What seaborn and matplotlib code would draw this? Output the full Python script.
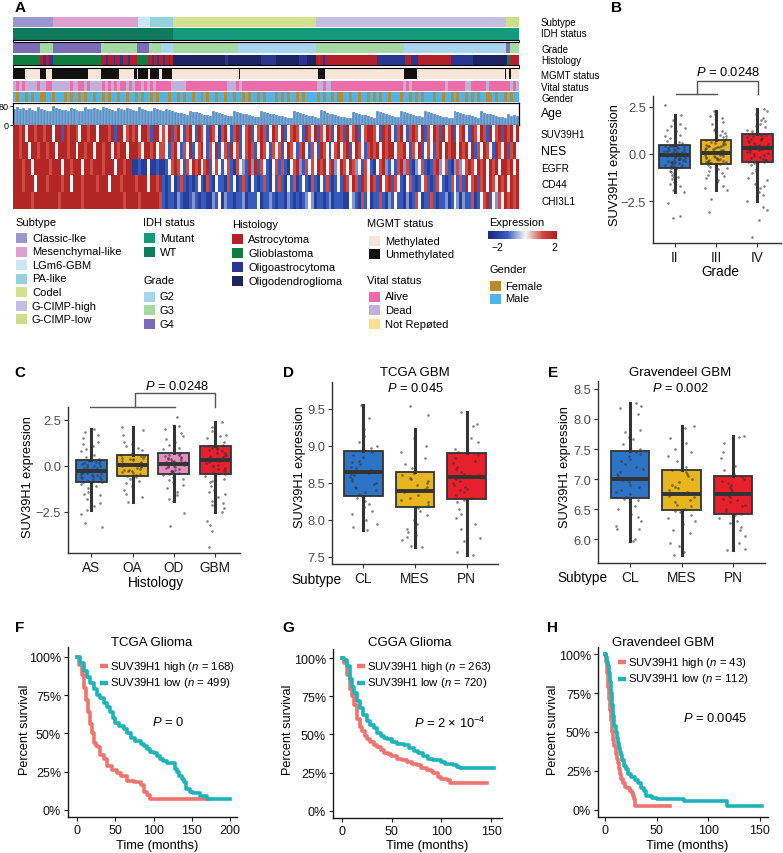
import numpy as np
import pandas as pd
import matplotlib
matplotlib.use("Agg")
import matplotlib.pyplot as plt
import seaborn as sns
from matplotlib.colors import ListedColormap, LinearSegmentedColormap
from matplotlib.patches import Rectangle
from matplotlib.lines import Line2D

plt.rcParams['font.family'] = ['Liberation Sans', 'DejaVu Sans']
plt.rcParams['mathtext.fontset'] = 'custom'
plt.rcParams['mathtext.rm'] = 'Liberation Sans'
plt.rcParams['mathtext.it'] = 'Liberation Sans:italic'
plt.rcParams['mathtext.bf'] = 'Liberation Sans:bold'
np.random.seed(7)

# ---------------- DATA: panel A annotation tracks (run lengths, samples) -------------
subtype_cats = ["Classic-like", "Mesenchymal-like", "LGm6-GBM", "PA-like", "Codel", "G-CIMP-high", "G-CIMP-low"]
subtype_runs = ["Classic-like", "Mesenchymal-like", "LGm6-GBM", "PA-like", "Codel", "G-CIMP-high", "G-CIMP-low"]
subtype_lens = [53, 112, 16, 30, 189, 250, 17]

idh_cats = ["Mutant", "WT"]
idh_runs = ["WT", "Mutant"]
idh_lens = [211, 456]

grade_cats = ["G2", "G3", "G4"]
grade_runs = ["G4", "G3", "G4", "G3", "G4", "G3", "G2", "G3", "G2", "G3", "G2", "G4", "G3"]
grade_lens = [36, 17, 63, 47, 16, 16, 16, 86, 103, 116, 134, 5, 12]

hist_cats = ["Astrocytoma", "Glioblastoma", "Oligoastrocytoma", "Oligodendroglioma"]
hist_runs = ["Glioblastoma", "Astrocytoma", "Oligoastrocytoma", "Astrocytoma", "Oligoastrocytoma",
             "Glioblastoma",
             "Astrocytoma", "Oligoastrocytoma", "Astrocytoma", "Oligoastrocytoma", "Astrocytoma",
             "Oligoastrocytoma", "Astrocytoma", "Oligoastrocytoma", "Astrocytoma",
             "Glioblastoma",
             "Astrocytoma", "Oligoastrocytoma", "Astrocytoma", "Oligoastrocytoma", "Astrocytoma",
             "Oligoastrocytoma", "Astrocytoma", "Oligoastrocytoma", "Astrocytoma",
             "Oligodendroglioma", "Oligoastrocytoma", "Oligodendroglioma", "Oligoastrocytoma",
             "Oligodendroglioma", "Oligoastrocytoma", "Oligodendroglioma",
             "Astrocytoma", "Glioblastoma", "Astrocytoma", "Oligoastrocytoma",
             "Astrocytoma", "Oligoastrocytoma", "Astrocytoma", "Oligoastrocytoma", "Astrocytoma",
             "Oligoastrocytoma", "Oligodendroglioma", "Glioblastoma", "Astrocytoma"]
hist_lens = [36, 4, 3, 5, 5,
             63,
             6, 3, 8, 2, 6, 4, 6, 3, 9,
             15,
             5, 3, 4, 2, 6, 3, 4, 2, 4,
             68, 4, 44, 20, 30, 10, 13,
             3, 2, 3, 3,
             69, 37, 8, 9, 43,
             30, 44, 4, 12]

mgmt_cats = ["Methylated", "Unmethylated"]
mgmt_runs = ["Unmethylated", "Methylated", "Unmethylated", "Methylated", "Unmethylated", "Methylated",
             "Unmethylated", "Methylated", "Unmethylated", "Methylated", "Unmethylated", "Methylated",
             "Unmethylated", "Methylated", "Unmethylated", "Methylated", "Unmethylated", "Methylated",
             "Unmethylated", "Methylated", "Unmethylated", "Methylated", "Unmethylated", "Methylated",
             "Unmethylated", "Methylated"]
mgmt_lens = [16, 20, 8, 8, 47, 17, 24, 20, 4, 1, 13, 3, 12, 4, 13, 88, 1, 103, 9, 104, 17, 117, 1, 4, 3, 10]

# vital status / gender per column block (a = Alive, d = Dead; f = Female, m = Male)
vital_cats = ["Alive", "Dead", "Not Reported"]
vital_blocks = ["dadaddddad", "daadddddda", "ddaadadddd", "adadadaada", "daadadadaa",
                "aaadddddaa", "aaaaaaaaaa", "aadddadaaa", "aaaaaaaaaa", "aaaaaaaaaa",
                "aaddaddaaa", "aaaaaaaaaa", "aaaaaaaaaa", "adadaaaaaa", "aaaaadaaaa",
                "aaddaaaaad", "aaaaaaadad"]
gender_cats = ["Female", "Male"]
gender_blocks = ["mfmmfmfmmf", "fmmfmmmfmf", "mmfmfmmfmm", "fmfmmfmmfm", "mfmfmmfmfm",
                 "mmfmmfmfmm", "fmmfmfmmfm", "mfmmfmmfmf", "mmfmfmmmfm", "fmfmmfmfmm",
                 "mmfmfmmfmf", "fmmfmmfmmf", "mfmfmmfmmm", "fmmfmfmfmm", "mfmmfmmfmf",
                 "mmfmfmfmmf", "fmfmmfmfmm"]

age_values = [68, 75, 66, 72, 64, 70, 62, 58, 74, 66,
              63, 60, 57, 79, 72, 68, 64, 61, 58, 70,
              66, 62, 59, 56, 74, 68, 65, 72, 67, 63,
              76, 70, 66, 62, 58, 69, 65, 61, 71, 66,
              62, 58, 73, 68, 64, 60, 56, 70, 65, 61,
              57, 66, 62, 58, 55, 51, 48, 45, 42, 58,
              55, 52, 49, 46, 43, 40, 38, 56, 52, 48,
              45, 42, 39, 36, 60, 55, 51, 47, 44, 41,
              38, 35, 33, 58, 54, 50, 47, 44, 41, 39,
              36, 34, 31, 29, 56, 52, 48, 45, 42, 39,
              36, 33, 30, 62, 56, 51, 47, 44, 41, 38,
              35, 32, 29, 27, 55, 51, 47, 43, 40, 37,
              34, 31, 56, 52, 48, 44, 41, 38, 35, 33,
              58, 53, 49, 45, 42, 39, 36, 33, 57, 52,
              48, 44, 41, 38, 35, 32, 30, 28, 60, 54,
              50, 46, 43, 40, 37, 34, 31, 56, 51, 47,
              44, 41, 38, 35, 32, 29, 45, 38, 42, 36]

genes = ["SUV39H1", "NES", "EGFR", "CD44", "CHI3L1"]
# expression level code: B=-2, b=-1.3, l=-0.8, w=0, r=1.2, R=2
expr_blocks = {
    "SUV39H1": ["RRrRwRRrRR", "rRRwRRbRrR", "RrwRRrRRwR", "RRrRbRRwrR", "rRwRRrbRRw",
                "rwRbrRwbrR", "wbRrwbRrwB", "rRwbrRbwrR", "bwrRrbwRrw", "RbwrRrwbRr",
                "wRbrwRrbwR", "rbRwrRbwrR", "RrwbRrRwbr", "RwbrRrwRbr", "wRrbRwrRbw",
                "rRwbRrwRrb", "RwrRbRrRwR"],
    "NES": ["RRrRRwRRrR", "RrRRwRRRrR", "RwRRrRRwRR", "rRRwRrRRwR", "RRrwRRrRwr",
            "rwbrRwbrwR", "bwrRwbrwRb", "wrbRwrbwrR", "rbwRrwbrwr", "bwRrwbrRwb",
            "rwbRrwbwrR", "wrRbwRrwbr", "RrRwRrRRwr", "rRwbrwRbwr", "wbrRwRrRRw",
            "RrRwRbrwRr", "wbRrwRbrRw"],
    "EGFR": ["RRRrRRwRRR", "RRrRRRwRRr", "RRRwRRrRRR", "rRRRwRRrRR", "BBbBBwBBbB",
             "BbwrRrwbrw", "RrRwrRbwrw", "bwrbBrwlbR", "lRbrwbBwrb", "rbBwrRlbrw",
             "rwRrRwrRlw", "RrwRrlwbrw", "bBwrRlbwbr", "RlrbBlwrbB", "brRlwrbBlr",
             "lwrRrwRrRw", "RrRwRRrRwR"],
    "CD44": ["RRRrRRRwRR", "RrRRRRrRRw", "RRRrRRRRrR", "RRwRRRrRRR", "RrRRRwRRrR",
             "bBbwBbrbBb", "BbwbBrbBwb", "bBrbwBbrbB", "wbBbrbBwbr", "bBwbrBbwbB",
             "rbBwbrbBbw", "bRrwRrbRrw", "RrbRwrRbrw", "bBwrbBbwrb", "BbrwbBbrwb",
             "rbRwrRbrRw", "RrwRrRwRrR"],
    "CHI3L1": ["RRRRRRrRRR", "RRRRRrRRRR", "RRRrRRRRRR", "RRRRRRRrRR", "RRrRRRRRRr",
               "bBbbBlbBBb", "lbBbbBBlbw", "BlbbBbblBb", "bbwBbblbBb", "bBlbBbBblw",
               "lBbbBblBbb", "bBBwlbBrbw", "BbbrbBlbwb", "bBlBbrwBbb", "rbBbblBbwl",
               "BlbbrBbwrR", "bwlrwRrRrR"],
}

# ---------------- DATA: box plots -------------
B_cats = ["II", "III", "IV"]
B_q1 = [-0.72, -0.52, -0.45]
B_med = [-0.08, 0.05, 0.30]
B_q3 = [0.50, 0.72, 1.07]
B_lo = [-2.0, -1.92, -2.5]
B_hi = [2.05, 2.3, 2.37]
B_II = [2.6, 2.05, 1.8, 1.6, 1.4, 1.2, 1.1, 0.95, 0.85, 0.75, 0.65, 0.6, 0.5, 0.45, 0.4, 0.35, 0.3, 0.25, 0.2,
        0.15, 0.1, 0.05, 0.0, -0.05, -0.1, -0.1, -0.15, -0.2, -0.25, -0.3, -0.35, -0.4, -0.45, -0.5, -0.55, -0.6,
        -0.7, -0.75, -0.8, -0.9, -1.0, -1.1, -1.2, -1.35, -1.5, -1.7, -1.9, -2.0, -2.6, -3.3, -3.4,
        0.42, 0.3, 0.2, 0.12, 0.02, -0.02, -0.12, -0.18, -0.28, -0.38, -0.48, -0.58, -0.66, 0.38, 0.22,
        -0.08, -0.22, -0.32, 0.0, 0.08, 0.18, -0.45, -0.62, 1.0, -1.25, 0.7, -0.95, 1.5, -1.6, 1.3]
B_III = [2.3, 2.1, 1.9, 1.7, 1.5, 1.35, 1.2, 1.1, 1.0, 0.9, 0.8, 0.75, 0.7, 0.65, 0.6, 0.5, 0.45, 0.4, 0.35,
         0.3, 0.25, 0.2, 0.15, 0.1, 0.05, 0.0, 0.0, -0.05, -0.1, -0.15, -0.2, -0.25, -0.3, -0.35, -0.4, -0.45,
         -0.5, -0.55, -0.6, -0.7, -0.8, -0.9, -1.0, -1.15, -1.3, -1.5, -1.7, -1.9, -2.4, -3.1,
         0.68, 0.55, 0.42, 0.32, 0.22, 0.12, 0.03, -0.03, -0.12, -0.22, -0.32, -0.42, -0.5, 0.6, 0.48,
         0.28, 0.08, -0.18, -0.38, 0.15, 0.35, -0.28, 1.25, -1.1, 1.6, -1.4, 0.95, -0.75, 2.0, -1.8]
B_IV = [2.37, 2.3, 2.1, 1.9, 1.75, 1.6, 1.45, 1.3, 1.2, 1.1, 1.05, 1.0, 0.9, 0.8, 0.7, 0.6, 0.5, 0.45, 0.4,
        0.35, 0.3, 0.25, 0.2, 0.1, 0.0, -0.1, -0.2, -0.3, -0.4, -0.45, -0.5, -0.6, -0.8, -1.0, -1.2, -1.4,
        -1.6, -1.8, -2.0, -2.2, -2.5, -2.8, -3.0, -3.5, -4.4,
        1.02, 0.85, 0.72, 0.62, 0.55, 0.42, 0.32, 0.22, 0.12, 0.05, -0.05, -0.15, -0.25, -0.38, 0.95,
        0.78, 0.48, 0.28, -0.32, 1.5, -0.9, -1.3, 1.8, -1.7]

C_cats = ["AS", "OA", "OD", "GBM"]
C_q1 = [-0.86, -0.53, -0.42, -0.46]
C_med = [-0.27, 0.03, 0.12, 0.31]
C_q3 = [0.32, 0.60, 0.68, 1.07]
C_lo = [-2.37, -1.95, -1.92, -2.52]
C_hi = [1.98, 2.1, 2.18, 2.37]
C_AS = [1.98, 1.85, 1.7, 1.5, 1.3, 1.1, 0.9, 0.75, 0.6, 0.5, 0.4, 0.3, 0.25, 0.15, 0.1, 0.0, -0.05, -0.1,
        -0.15, -0.2, -0.27, -0.3, -0.35, -0.4, -0.45, -0.5, -0.55, -0.6, -0.7, -0.8, -0.86, -0.9, -1.0, -1.1,
        -1.2, -1.4, -1.6, -1.8, -2.0, -2.2, -2.37, -2.6, -3.1, -3.34,
        0.28, 0.18, 0.05, -0.02, -0.12, -0.22, -0.32, -0.42, -0.52, -0.62, -0.72, -0.82, 0.2, -0.25,
        -0.38, -0.65, 1.2, -1.5, 0.8]
C_OA = [2.1, 1.95, 1.7, 1.5, 1.3, 1.1, 0.95, 0.85, 0.7, 0.6, 0.55, 0.45, 0.35, 0.3, 0.2, 0.15, 0.1, 0.05,
        0.03, 0.0, -0.05, -0.1, -0.2, -0.25, -0.3, -0.4, -0.45, -0.53, -0.6, -0.7, -0.8, -0.95, -1.1, -1.3,
        -1.5, -1.7, -1.95,
        0.52, 0.4, 0.25, 0.12, -0.02, -0.15, -0.35, -0.48, 0.08, -0.22, 0.45, 1.2]
C_OD = [2.65, 2.18, 2.0, 1.8, 1.6, 1.45, 1.3, 1.15, 1.0, 0.9, 0.8, 0.7, 0.65, 0.55, 0.45, 0.4, 0.3, 0.25,
        0.2, 0.15, 0.12, 0.1, 0.05, 0.0, -0.05, -0.1, -0.2, -0.25, -0.3, -0.35, -0.42, -0.5, -0.6, -0.75,
        -0.9, -1.05, -1.2, -1.4, -1.6, -1.8, -1.92, -2.55, -3.25,
        0.62, 0.5, 0.35, 0.22, 0.1, -0.02, -0.15, -0.28, -0.38, 0.58, 0.18, -0.08, 0.42, 0.28, -0.7]
C_GBM = [2.37, 2.25, 2.1, 1.9, 1.7, 1.5, 1.3, 1.15, 1.07, 1.0, 0.9, 0.8, 0.7, 0.6, 0.5, 0.4, 0.35, 0.31,
         0.25, 0.15, 0.05, -0.1, -0.2, -0.3, -0.4, -0.46, -0.55, -0.7, -0.9, -1.1, -1.3, -1.5, -1.7, -1.9,
         -2.1, -2.3, -2.52, -3.0, -3.2, -3.56, -4.38,
         0.98, 0.85, 0.72, 0.62, 0.48, 0.38, 0.2, 0.0, -0.15, -0.35, 0.55, -0.8, -1.4, -2.0, 1.6]

D_cats = ["CL", "MES", "PN"]
D_q1 = [8.32, 8.17, 8.28]
D_med = [8.64, 8.39, 8.58]
D_q3 = [8.93, 8.65, 8.90]
D_lo = [7.86, 7.64, 7.52]
D_hi = [9.55, 9.23, 9.45]
D_CL = [9.55, 9.37, 9.22, 9.13, 9.05, 9.02, 9.0, 8.97, 8.92, 8.88, 8.85, 8.8, 8.78, 8.75, 8.72, 8.7, 8.67,
        8.65, 8.63, 8.62, 8.6, 8.58, 8.55, 8.52, 8.5, 8.48, 8.45, 8.43, 8.4, 8.38, 8.35, 8.32, 8.3, 8.26,
        8.22, 8.18, 8.12, 8.08, 8.0, 7.95, 7.9, 7.87, 7.86]
D_MES = [9.53, 9.41, 9.22, 9.1, 9.0, 8.92, 8.83, 8.75, 8.7, 8.65, 8.63, 8.6, 8.57, 8.55, 8.52, 8.5, 8.47,
         8.44, 8.41, 8.39, 8.37, 8.34, 8.3, 8.27, 8.24, 8.2, 8.18, 8.16, 8.12, 8.06, 8.0, 7.95, 7.88, 7.83,
         7.8, 7.77, 7.73, 7.65, 7.64]
D_PN = [9.45, 9.3, 9.27, 9.1, 9.05, 8.95, 8.92, 8.9, 8.87, 8.84, 8.8, 8.77, 8.72, 8.68, 8.65, 8.62, 8.6,
        8.58, 8.55, 8.52, 8.5, 8.47, 8.45, 8.42, 8.4, 8.37, 8.33, 8.3, 8.27, 8.24, 8.2, 8.15, 8.08, 8.02,
        7.95, 7.88, 7.75, 7.72, 7.57, 7.52]

E_cats = ["CL", "MES", "PN"]
E_q1 = [6.69, 6.49, 6.43]
E_med = [7.01, 6.76, 6.75]
E_q3 = [7.47, 7.16, 7.05]
E_lo = [5.97, 5.74, 5.83]
E_hi = [8.26, 7.89, 7.71]
E_CL = [8.26, 8.22, 8.18, 8.08, 7.82, 7.78, 7.7, 7.67, 7.58, 7.5, 7.45, 7.42, 7.38, 7.33, 7.3, 7.25, 7.2,
        7.17, 7.12, 7.08, 7.05, 7.02, 7.0, 6.98, 6.95, 6.9, 6.87, 6.82, 6.78, 6.75, 6.7, 6.68, 6.65, 6.55,
        6.5, 6.42, 6.38, 6.3, 6.22, 6.18, 6.17, 6.0, 5.97]
E_MES = [7.89, 7.85, 7.68, 7.6, 7.5, 7.45, 7.38, 7.3, 7.2, 7.15, 7.12, 7.08, 7.05, 7.0, 6.95, 6.9, 6.87,
         6.85, 6.82, 6.78, 6.76, 6.73, 6.7, 6.65, 6.62, 6.58, 6.55, 6.5, 6.48, 6.45, 6.4, 6.35, 6.3, 6.25,
         6.15, 6.1, 5.95, 5.9, 5.8, 5.74]
E_PN = [7.71, 7.7, 7.6, 7.45, 7.35, 7.22, 7.15, 7.08, 7.04, 7.0, 6.97, 6.93, 6.9, 6.87, 6.83, 6.8, 6.77,
        6.75, 6.73, 6.7, 6.68, 6.65, 6.62, 6.58, 6.55, 6.5, 6.47, 6.43, 6.4, 6.35, 6.3, 6.27, 6.2, 6.15,
        6.05, 5.95, 5.85, 5.83]

# ---------------- DATA: survival curves -------------
F_high_t = [0, 3, 6, 9, 12, 14, 17, 20, 22, 25, 28, 30, 35, 39, 46, 52, 57, 65, 75, 83, 87, 91, 95, 172]
F_high_s = [1.0, 0.95, 0.88, 0.8, 0.72, 0.64, 0.56, 0.5, 0.44, 0.42, 0.41, 0.36, 0.33, 0.29, 0.26, 0.24,
            0.22, 0.19, 0.18, 0.16, 0.12, 0.1, 0.07, 0.07]
F_low_t = [0, 4, 9, 13, 17, 22, 26, 30, 35, 39, 43, 47, 50, 55, 61, 66, 70, 76, 83, 88, 91, 96, 100, 105,
           109, 113, 117, 128, 131, 133, 137, 140, 143, 148, 152, 161, 170, 200]
F_low_s = [1.0, 0.96, 0.91, 0.87, 0.83, 0.79, 0.75, 0.73, 0.70, 0.67, 0.64, 0.6, 0.57, 0.55, 0.53, 0.5,
           0.47, 0.45, 0.43, 0.42, 0.40, 0.38, 0.37, 0.35, 0.33, 0.32, 0.31, 0.27, 0.25, 0.22, 0.2, 0.18,
           0.14, 0.12, 0.11, 0.09, 0.07, 0.07]
G_high_t = [0, 2, 5, 8, 10, 12, 15, 18, 20, 23, 25, 28, 32, 35, 39, 42, 46, 49, 55, 60, 65, 70, 75, 80, 86,
            90, 92, 97, 100, 106, 109, 146]
G_high_s = [1.0, 0.97, 0.89, 0.8, 0.75, 0.69, 0.6, 0.55, 0.52, 0.49, 0.47, 0.45, 0.43, 0.42, 0.40, 0.38,
            0.37, 0.36, 0.34, 0.33, 0.32, 0.31, 0.30, 0.28, 0.27, 0.26, 0.25, 0.22, 0.21, 0.2, 0.18, 0.18]
G_low_t = [0, 2, 5, 8, 10, 12, 15, 18, 21, 25, 28, 32, 35, 39, 42, 45, 50, 55, 62, 67, 72, 77, 82, 87, 92,
           96, 100, 104, 108, 112, 116, 119, 153]
G_low_s = [1.0, 0.99, 0.95, 0.86, 0.81, 0.77, 0.72, 0.67, 0.63, 0.59, 0.56, 0.54, 0.51, 0.49, 0.48, 0.47,
           0.45, 0.44, 0.43, 0.41, 0.39, 0.38, 0.36, 0.34, 0.335, 0.33, 0.32, 0.31, 0.305, 0.30, 0.29, 0.28,
           0.28]
H_high_t = [0, 1, 2, 3, 4, 5, 6, 7, 8, 9, 10, 11, 12, 13, 14, 15, 17, 19, 21, 24, 26, 27, 28, 29, 63]
H_high_s = [1.0, 0.95, 0.88, 0.79, 0.71, 0.64, 0.58, 0.5, 0.45, 0.41, 0.36, 0.33, 0.3, 0.26, 0.23, 0.2,
            0.17, 0.15, 0.14, 0.12, 0.11, 0.09, 0.07, 0.026, 0.026]
H_low_t = [0, 1, 2, 3, 4, 5, 6, 7, 8, 9, 10, 11, 12, 13, 14, 15, 16, 18, 20, 22, 25, 29, 32, 35, 38, 40,
           45, 50, 74, 76, 118, 152]
H_low_s = [1.0, 0.98, 0.95, 0.92, 0.88, 0.82, 0.75, 0.67, 0.6, 0.54, 0.5, 0.46, 0.43, 0.4, 0.37, 0.35,
           0.32, 0.28, 0.26, 0.23, 0.21, 0.19, 0.17, 0.14, 0.12, 0.09, 0.08, 0.07, 0.07, 0.06, 0.026, 0.026]

# ---------------- colours -------------
subtype_cols = ['#9A96CE', '#DDA0CF', '#CBE7F6', '#93D2DC', '#D2E08F', '#C4BEE2', '#CDDD8A']
idh_cols = ['#139A78', '#0F7A5E']
grade_cols = ['#A9D4EF', '#A6D8A4', '#7A6DB6']
hist_cols = ['#B2202C', '#0F7D3E', '#2A3690', '#1E2462']
mgmt_cols = ['#F7E5D8', '#111111']
vital_cols = ['#EE6BAA', '#C1B1DA', '#F9E08F']
gender_cols = ['#B98B30', '#4FB5E8']
expr_cmap = LinearSegmentedColormap.from_list('expr', ['#1B2A80', '#3A5CC0', '#F7F7F7', '#D0433C', '#9E1418'])
box_blue, box_yel, box_red, box_pink = '#2E74C6', '#E7B51D', '#E8202C', '#E48DC0'
km_red, km_teal = '#F0746E', '#1DB4B8'

# ---------------- figure helpers -------------
W, H = 783, 854
fig = plt.figure(figsize=(W / 100, H / 100), dpi=100)


def rect(x0, y0, x1, y1):
    return [x0 / W, 1 - y1 / H, (x1 - x0) / W, (y1 - y0) / H]


def T(x, y, s, **kw):
    kw.setdefault('ha', 'left')
    kw.setdefault('va', 'center')
    fig.text(x / W, 1 - y / H, s, **kw)


def L(xs, ys, **kw):
    fig.add_artist(Line2D([x / W for x in xs], [1 - y / H for y in ys], transform=fig.transFigure, **kw))


def SQ(x, yc, c, w=10.5, h=10):
    fig.add_artist(Rectangle((x / W, 1 - (yc + h / 2) / H), w / W, h / H, transform=fig.transFigure,
                             facecolor=c, edgecolor='none'))


XL, XR = 13, 519


def track_runs(y0, y1, runs, lens, cats, cols):
    ax = fig.add_axes(rect(XL, y0, XR, y1))
    edges = np.concatenate([[0], np.cumsum(lens)])
    idx = np.array([cats.index(r) for r in runs])[None, :]
    ax.pcolormesh(edges, [0, 1], idx, cmap=ListedColormap(cols), vmin=-0.5, vmax=len(cols) - 0.5)
    ax.set_xlim(0, edges[-1]); ax.set_ylim(0, 1); ax.axis('off')


def track_codes(y0, y1, blocks, mapping, cols):
    s = ''.join(blocks)
    ax = fig.add_axes(rect(XL, y0, XR, y1))
    idx = np.array([mapping[ch] for ch in s])[None, :]
    ax.pcolormesh(np.arange(len(s) + 1), [0, 1], idx, cmap=ListedColormap(cols), vmin=-0.5,
                  vmax=len(cols) - 0.5)
    ax.set_xlim(0, len(s)); ax.set_ylim(0, 1); ax.axis('off')


# ---------------- Panel A -------------
track_runs(18, 28, subtype_runs, subtype_lens, subtype_cats, subtype_cols)
track_runs(29, 40.6, idh_runs, idh_lens, idh_cats, idh_cols)
track_runs(44, 54, grade_runs, grade_lens, grade_cats, grade_cols)
track_runs(55.7, 65.8, hist_runs, hist_lens, hist_cats, hist_cols)
track_runs(70, 80, mgmt_runs, mgmt_lens, mgmt_cats, mgmt_cols)
track_codes(81.7, 91.7, vital_blocks, {'a': 0, 'd': 1, 'n': 2}, vital_cols)
track_codes(93.3, 103.3, gender_blocks, {'f': 0, 'm': 1}, gender_cols)
for (ya, yb) in [(40.8, 43.2), (66.3, 69.2)]:
    fig.add_artist(Rectangle((XL / W, 1 - yb / H), (XR - XL) / W, (yb - ya) / H, transform=fig.transFigure,
                             facecolor='white', edgecolor='black', linewidth=0.8))

# age bars
axg = fig.add_axes(rect(XL, 104.3, XR, 126))
axg.bar(np.arange(len(age_values)) + 0.5, age_values, width=1.0, color='#5B92C6', edgecolor='white',
        linewidth=0.15)
axg.set_xlim(0, len(age_values)); axg.set_ylim(0, 90)
axg.set_xticks([]); axg.set_yticks([0, 80]); axg.set_yticklabels(['0', '80'])
axg.tick_params(axis='y', length=2, width=0.6, labelsize=6.5, pad=1)
for sp in axg.spines.values():
    sp.set_color('black'); sp.set_linewidth(0.9)

# expression heatmap
lvl = {'B': -2.0, 'b': -1.3, 'l': -0.8, 'w': 0.0, 'p': 0.6, 'r': 1.2, 'R': 2.0}
NCOL = 170
rows = []
for gname in genes:
    s = ''.join(expr_blocks[gname])
    s = (s + s[-1] * NCOL)[:NCOL]
    rows.append([lvl[ch] for ch in s])
expr_df = pd.DataFrame(rows, index=genes)
axh = fig.add_axes(rect(XL, 126, XR, 210))
sns.heatmap(expr_df, cmap=expr_cmap, vmin=-2.5, vmax=2.5, cbar=False, ax=axh, xticklabels=False,
            yticklabels=False)
axh.set_xlabel(''); axh.set_ylabel('')

# right side labels
for lab, y, fs in [("Subtype", 23, 7), ("IDH status", 34, 7), ("Grade", 50, 7), ("Histology", 61, 7),
                   ("MGMT status", 76, 7), ("Vital status", 88, 7), ("Gender", 99, 7), ("Age", 114, 8.8),
                   ("SUV39H1", 135, 7.2), ("NES", 152, 8.8), ("EGFR", 169, 7.2), ("CD44", 185, 7.2),
                   ("CHI3L1", 202, 7.2)]:
    T(541, y, lab, fontsize=fs)

# legends
LFS = 8
T(15, 223, "Subtype", fontsize=LFS)
for i, (lab, c) in enumerate(zip(["Classic-lke", "Mesenchymal-like", "LGm6-GBM", "PA-like", "Codel",
                                   "G-CIMP-high", "G-CIMP-low"], subtype_cols)):
    y = 239 + i * 13.5
    SQ(16, y, c); T(32, y, lab, fontsize=LFS)
T(143, 223, "IDH status", fontsize=LFS)
for i, (lab, c) in enumerate(zip(idh_cats, idh_cols)):
    y = 239 + i * 13.8
    SQ(144, y, c); T(160, y, lab, fontsize=LFS)
T(143, 281, "Grade", fontsize=LFS)
for i, (lab, c) in enumerate(zip(grade_cats, grade_cols)):
    y = 297.5 + i * 13.5
    SQ(144, y, c); T(160, y, lab, fontsize=LFS)
T(232, 225, "Histology", fontsize=LFS)
for i, (lab, c) in enumerate(zip(hist_cats, hist_cols)):
    y = 240 + i * 14
    SQ(232, y, c); T(248, y, lab, fontsize=LFS)
T(367, 224, "MGMT status", fontsize=LFS)
for i, (lab, c) in enumerate(zip(mgmt_cats, mgmt_cols)):
    y = 242 + i * 13.3
    SQ(369, y, c); T(385, y, lab, fontsize=LFS)
T(367, 281, "Vital status", fontsize=LFS)
for i, (lab, c) in enumerate(zip(["Alive", "Dead", "Not Repøted"], vital_cols)):
    y = 297.5 + i * 13.5
    SQ(369, y, c); T(385, y, lab, fontsize=LFS)
T(489, 223, "Expression", fontsize=LFS)
axc = fig.add_axes(rect(488, 232, 557, 239.5))
axc.imshow(np.linspace(-2.6, 2.2, 256)[None, :], aspect='auto', cmap=expr_cmap, vmin=-2.5, vmax=2.5)
axc.axis('off')
T(497, 248, "\u22122", fontsize=7.5, ha='center')
T(554, 248, "2", fontsize=7.5, ha='center')
T(489, 270, "Gender", fontsize=LFS)
for i, (lab, c) in enumerate(zip(gender_cats, gender_cols)):
    y = 286.5 + i * 13
    SQ(490, y, c); T(505, y, lab, fontsize=LFS)


# ---------------- box panels -------------
def box_panel(r, cats, q1, med, q3, lo, hi, cols, pts, xlim, ylim, yticks, yticklabels):
    ax = fig.add_axes(rect(*r))
    grp, val = [], []
    for c, p in zip(cats, pts):
        grp += [c] * len(p)
        val += list(p)
    df = pd.DataFrame({'grp': grp, 'val': val})
    stats = [dict(med=m, q1=a, q3=b, whislo=l, whishi=h, fliers=[]) for a, m, b, l, h in
             zip(q1, med, q3, lo, hi)]
    bp = ax.bxp(stats, positions=np.arange(len(cats)), widths=0.75, patch_artist=True, showfliers=False,
                showcaps=False, manage_ticks=False,
                boxprops=dict(edgecolor='#333333', linewidth=1.3),
                medianprops=dict(color='#333333', linewidth=2.8, solid_capstyle='butt'),
                whiskerprops=dict(color='#333333', linewidth=2.2), zorder=2)
    for patch, c in zip(bp['boxes'], cols):
        patch.set_facecolor(c)
    sns.stripplot(data=df, x='grp', y='val', order=cats, color='#333333', size=1.9, jitter=0.27,
                  alpha=0.6, linewidth=0, ax=ax, zorder=3)
    ax.set_xlim(*xlim); ax.set_ylim(*ylim)
    ax.set_xticks(range(len(cats))); ax.set_xticklabels(cats)
    ax.set_yticks(yticks); ax.set_yticklabels(yticklabels)
    ax.set_xlabel(''); ax.set_ylabel('')
    ax.set_facecolor('white')
    for s in ['top', 'right']:
        ax.spines[s].set_visible(False)
    for s in ['left', 'bottom']:
        ax.spines[s].set_color('#333333'); ax.spines[s].set_linewidth(1.0)
    ax.tick_params(axis='both', length=3, width=0.8, color='#333333', pad=2)
    ax.tick_params(axis='y', labelsize=9.3, labelcolor='#4D4D4D')
    ax.tick_params(axis='x', labelsize=9.8, labelcolor='#1A1A1A')
    return ax


box_panel((653, 97, 781, 244), B_cats, B_q1, B_med, B_q3, B_lo, B_hi, [box_blue, box_yel, box_red],
          [B_II, B_III, B_IV], (-0.53, 2.58), (-4.73, 3.08), [2.5, 0, -2.5], ['2.5', '0.0', '\u22122.5'])
T(615, 165, "SUV39H1 expression", fontsize=9.2, rotation=90, ha='center')
T(720, 272, "Grade", fontsize=9.8, ha='center')
T(728, 72, r"$\it{P}$ = 0.0248", fontsize=9.3, ha='center')
L([676, 717], [95, 95], color='#555555', lw=1)
L([697, 697, 758, 758], [95, 82, 82, 95], color='#555555', lw=1)

box_panel((68, 408, 240, 554), C_cats, C_q1, C_med, C_q3, C_lo, C_hi,
          [box_blue, box_yel, box_pink, box_red], [C_AS, C_OA, C_OD, C_GBM], (-0.56, 3.6), (-4.73, 3.2),
          [2.5, 0, -2.5], ['2.5', '0.0', '\u22122.5'])
T(28, 477, "SUV39H1 expression", fontsize=9.2, rotation=90, ha='center')
T(156, 583, "Histology", fontsize=9.8, ha='center')
T(177, 386, r"$\it{P}$ = 0.0248", fontsize=9.3, ha='center')
L([90, 175], [408, 408], color='#555555', lw=1)
L([135, 135, 215, 215], [408, 394, 394, 408], color='#555555', lw=1)

box_panel((332, 383, 498, 565), D_cats, D_q1, D_med, D_q3, D_lo, D_hi, [box_blue, box_yel, box_red],
          [D_CL, D_MES, D_PN], (-0.6, 2.6), (7.405, 9.86), [7.5, 8.0, 8.5, 9.0, 9.5],
          ['7.5', '8.0', '8.5', '9.0', '9.5'])
T(300, 467, "SUV39H1 expression", fontsize=9.2, rotation=90, ha='center')
T(317, 580, "Subtype", fontsize=9.8, ha='center')
T(415, 373, "TCGA GBM", fontsize=9.5, ha='center')
T(415, 389, r"$\it{P}$ = 0.045", fontsize=9.3, ha='center')

box_panel((598, 382, 765, 564), E_cats, E_q1, E_med, E_q3, E_lo, E_hi, [box_blue, box_yel, box_red],
          [E_CL, E_MES, E_PN], (-0.62, 2.62), (5.61, 8.63), [6.0, 6.5, 7.0, 7.5, 8.0, 8.5],
          ['6.0', '6.5', '7.0', '7.5', '8.0', '8.5'])
T(565, 467, "SUV39H1 expression", fontsize=9.2, rotation=90, ha='center')
T(583, 578, "Subtype", fontsize=9.8, ha='center')
T(680, 373, "Gravendeel GBM", fontsize=9.5, ha='center')
T(680, 389, r"$\it{P}$ = 0.002", fontsize=9.3, ha='center')


# ---------------- survival panels -------------
def km_panel(r, curves, xlim, xticks, ylim):
    ax = fig.add_axes(rect(*r))
    for t, s, c in curves:
        df = pd.DataFrame({'t': t, 's': s})
        sns.lineplot(data=df, x='t', y='s', estimator=None, drawstyle='steps-post', color=c, lw=2.6,
                     ax=ax)
    ax.set_xlim(*xlim); ax.set_ylim(*ylim)
    ax.set_xticks(xticks); ax.set_xticklabels([str(v) for v in xticks])
    ax.set_yticks([0, 0.25, 0.5, 0.75, 1.0]); ax.set_yticklabels(['0%', '25%', '50%', '75%', '100%'])
    ax.set_xlabel(''); ax.set_ylabel('')
    for s in ['top', 'right']:
        ax.spines[s].set_visible(False)
    for s in ['left', 'bottom']:
        ax.spines[s].set_color('#1A1A1A'); ax.spines[s].set_linewidth(1.0)
    ax.tick_params(axis='both', length=3, width=0.8, color='#1A1A1A', labelsize=9, labelcolor='#111111',
                   pad=2)
    return ax


km_panel((68, 648, 237, 818), [(F_high_t, F_high_s, km_red), (F_low_t, F_low_s, km_teal)], (-11.7, 209),
         [0, 50, 100, 150, 200], (-0.046, 1.065))
km_panel((333, 650, 502, 819), [(G_high_t, G_high_s, km_red), (G_low_t, G_low_s, km_teal)], (-9, 161),
         [0, 50, 100, 150], (-0.046, 1.059))
km_panel((598, 648, 768, 818), [(H_high_t, H_high_s, km_red), (H_low_t, H_low_s, km_teal)], (-7, 158),
         [0, 50, 100, 150], (-0.045, 1.045))

for (xc, title, pt, px, py, lx, ly, nh, nl, xlab) in [
        (152, "TCGA Glioma", r"$\it{P}$ = 0", 168, 723, 100, 667, 168, 499, 157),
        (410, "CGGA Glioma", r"$\it{P}$ = 2 × 10$^{-4}$", 450, 723, 357, 667, 263, 720, 427),
        (663, "Gravendeel GBM", r"$\it{P}$ = 0.0045", 715, 718, 618, 663, 43, 112, 687)]:
    T(xc, 643, title, fontsize=9.5, ha='center')
    T(px, py, pt, fontsize=9.3, ha='center')
    L([lx, lx + 7.5], [ly, ly], color=km_red, lw=3.2, solid_capstyle='butt')
    L([lx, lx + 7.5], [ly + 16.5, ly + 16.5], color=km_teal, lw=3.2, solid_capstyle='butt')
    T(lx + 10, ly, r"SUV39H1 high ($\it{n}$ = %d)" % nh, fontsize=8.2)
    T(lx + 10, ly + 16.5, r"SUV39H1 low ($\it{n}$ = %d)" % nl, fontsize=8.2)
    T(xlab, 846, "Time (months)", fontsize=9.3, ha='center')
for x in [25, 288, 553]:
    T(x, 730, "Percent survival", fontsize=9.1, rotation=90, ha='center')

# panel letters
for lab, x, y in [("A", 20, 8), ("B", 617, 8), ("C", 20, 373), ("D", 288, 373), ("E", 553, 373),
                  ("F", 20, 628), ("G", 288, 628), ("H", 553, 628)]:
    T(x, y, lab, fontsize=11, fontweight='bold', ha='center')

fig.savefig("out.png", dpi=100, facecolor='white')
